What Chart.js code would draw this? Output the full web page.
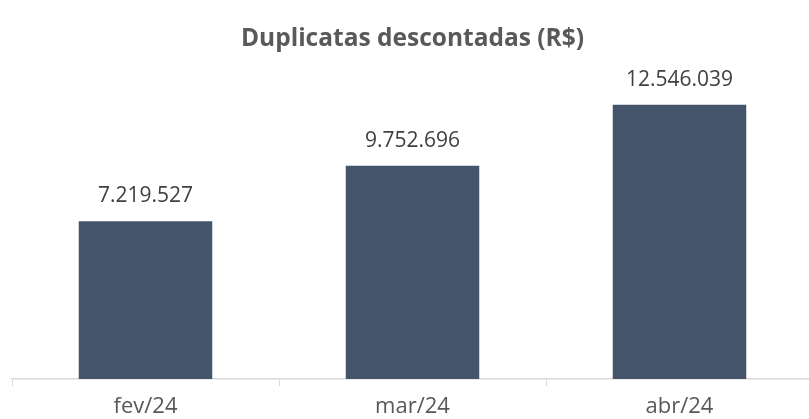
<!DOCTYPE html>
<html>
<head>
<meta charset="utf-8">
<script src="https://cdn.jsdelivr.net/npm/chart.js@4"></script>
<style>
  html, body { margin: 0; padding: 0; background: #fff; overflow: hidden; }
  #wrap { width: 813px; height: 419px; position: relative; }
</style>
</head>
<body>
<div id="wrap"><canvas id="c"></canvas></div>
<script>
const categories = ['fev/24', 'mar/24', 'abr/24'];
const values = [7219527, 9752696, 12546039];
const chartTitle = 'Duplicatas descontadas (R$)';

function fmt(v) {
  return String(v).replace(/\B(?=(\d{3})+(?!\d))/g, '.');
}

const labelPlugin = {
  id: 'barLabels',
  afterDatasetsDraw(chart) {
    const ctx = chart.ctx;
    const meta = chart.getDatasetMeta(0);
    ctx.save();
    ctx.font = '21px "Open Sans"';
    ctx.fillStyle = '#404040';
    ctx.textAlign = 'center';
    ctx.textBaseline = 'middle';
    meta.data.forEach((bar, i) => {
      ctx.fillText(fmt(values[i]), bar.x, bar.y - 25);
    });
    ctx.restore();
  }
};

new Chart(document.getElementById('c'), {
  type: 'bar',
  data: {
    labels: categories,
    datasets: [{
      data: values,
      backgroundColor: '#44546A',
      categoryPercentage: 1.0,
      barPercentage: 0.5
    }]
  },
  options: {
    responsive: true,
    maintainAspectRatio: false,
    animation: false,
    layout: { padding: { left: 12, right: 0, top: 0, bottom: 0 } },
    plugins: {
      legend: { display: false },
      tooltip: { enabled: false },
      title: {
        display: true,
        text: chartTitle,
        color: '#595959',
        font: { family: '"Open Sans"', size: 24.5, weight: 'bold', lineHeight: 1.2 },
        padding: { top: 24.3, bottom: 19.3 }
      }
    },
    scales: {
      x: {
        grid: {
          display: true,
          offset: true,
          drawOnChartArea: false,
          drawTicks: true,
          tickLength: 7,
          color: '#d9d9d9',
          lineWidth: 1
        },
        border: { display: true, color: '#d9d9d9', width: 1.5 },
        ticks: {
          color: '#595959',
          font: { family: '"Open Sans"', size: 22 },
          padding: 8
        },
        afterFit(scale) { scale.height = 40; }
      },
      y: {
        display: false,
        min: 0,
        max: 14000000
      }
    }
  },
  plugins: [labelPlugin]
});
</script>
</body>
</html>
